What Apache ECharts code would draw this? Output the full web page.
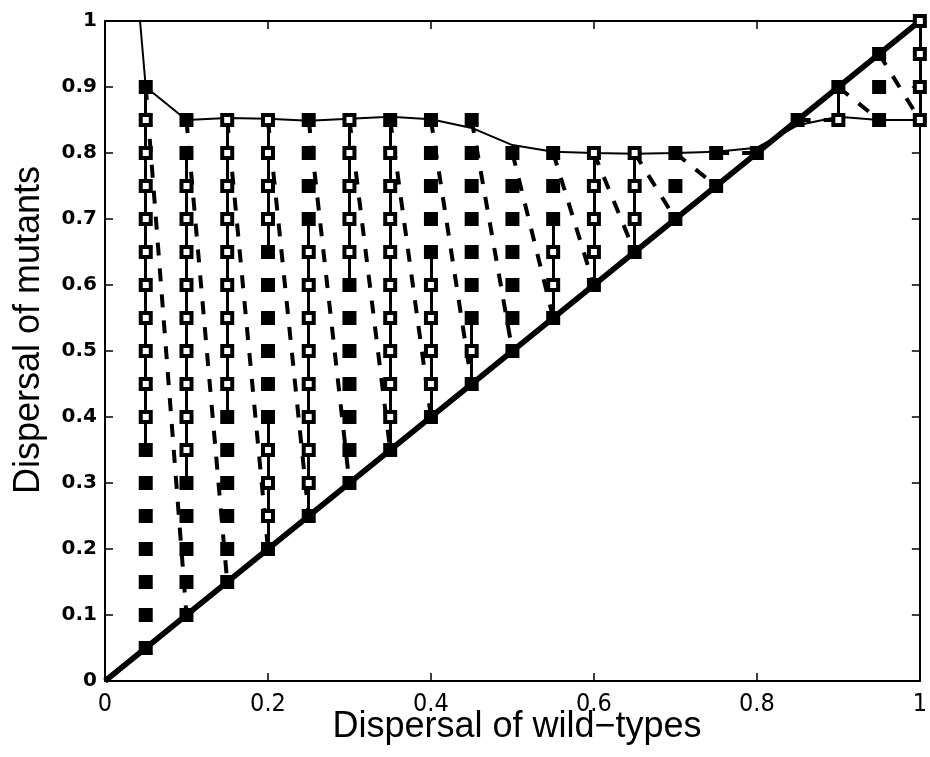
<!DOCTYPE html>
<html>
<head>
<meta charset="utf-8">
<script src="https://cdn.jsdelivr.net/npm/echarts@6/dist/echarts.min.js"></script>
<style>html,body{margin:0;padding:0;background:#fff;}#chart{width:930px;height:757px;}</style>
</head>
<body>
<div id="chart"></div>
<script>
// Columns of wild-type dispersal values
const columns = [0.05,0.1,0.15,0.2,0.25,0.3,0.35,0.4,0.45,0.5,0.55,0.6,0.65,0.7,0.75,0.8,0.85,0.9,0.95,1.0];
// Mutant dispersal values drawn as filled squares, one array per column
const filledY = [
  [0.9,0.35,0.3,0.25,0.2,0.15,0.1,0.05],
  [0.85,0.8,0.3,0.25,0.2,0.15,0.1],
  [0.4,0.35,0.3,0.25,0.2,0.15],
  [0.65,0.6,0.55,0.5,0.45,0.4,0.2],
  [0.85,0.8,0.75,0.7,0.25],
  [0.6,0.55,0.5,0.45,0.4,0.35,0.3],
  [0.85,0.35],
  [0.85,0.8,0.75,0.7,0.65,0.4],
  [0.85,0.8,0.75,0.7,0.65,0.6,0.55,0.45],
  [0.8,0.75,0.7,0.65,0.6,0.55,0.5],
  [0.8,0.75,0.7,0.55],
  [0.6],
  [0.65],
  [0.8,0.75,0.7],
  [0.8,0.75],
  [0.8],
  [0.85],
  [0.9],
  [0.95,0.9,0.85],
  []
];
// Mutant dispersal values drawn as open squares, one array per column
const hollowY = [
  [0.85,0.8,0.75,0.7,0.65,0.6,0.55,0.5,0.45,0.4],
  [0.75,0.7,0.65,0.6,0.55,0.5,0.45,0.4,0.35],
  [0.85,0.8,0.75,0.7,0.65,0.6,0.55,0.5,0.45],
  [0.85,0.8,0.75,0.7,0.35,0.3,0.25],
  [0.65,0.6,0.55,0.5,0.45,0.4,0.35,0.3],
  [0.85,0.8,0.75,0.7,0.65],
  [0.8,0.75,0.7,0.65,0.6,0.55,0.5,0.45,0.4],
  [0.6,0.55,0.5,0.45],
  [0.5],
  [],
  [0.65,0.6],
  [0.8,0.75,0.7,0.65],
  [0.8,0.75,0.7],
  [],
  [],
  [],
  [],
  [0.85],
  [],
  [1.0,0.95,0.9,0.85]
];
// Thin solid boundary curve
const boundaryX = [0.043,0.05,0.1,0.15,0.2,0.25,0.3,0.35,0.4,0.45,0.5,0.55,0.6,0.65,0.7,0.75,0.8,0.85,0.9,0.95,1.0];
const boundaryY = [1.0,0.9,0.85,0.853,0.852,0.849,0.852,0.855,0.851,0.838,0.812,0.802,0.8,0.799,0.8,0.802,0.808,0.842,0.855,0.85,0.85];
// Thick diagonal
const diagonal = [[0,0],[1,1]];
const xTitle = 'Dispersal of wild−types';
const yTitle = 'Dispersal of mutants';

const filledPts = [], hollowPts = [], stems = [], dashes = [];
const tops = [], bottoms = [];
columns.forEach((x,i) => {
  filledY[i].forEach(y => filledPts.push([x,y]));
  hollowY[i].forEach(y => hollowPts.push([x,y]));
  const all = filledY[i].map(y => ({y, h:false})).concat(hollowY[i].map(y => ({y, h:true})));
  all.sort((a,b) => a.y - b.y);
  for (let k = 0; k + 1 < all.length; k++) {
    if (all[k].h || all[k+1].h) stems.push({coords: [[x, all[k].y], [x, all[k+1].y]]});
  }
  tops.push(all.length ? all[all.length-1].y : null);
  bottoms.push(all.length ? all[0].y : null);
});
for (let i = 0; i + 1 < columns.length; i++) {
  dashes.push({coords: [[columns[i], tops[i]], [columns[i+1], bottoms[i+1]]]});
}
const boundary = boundaryX.map((x,i) => [x, boundaryY[i]]);

const chart = echarts.init(document.getElementById('chart'), null, {renderer:'canvas'});
const axisCommon = {
  type:'value', min:0, max:1,
  axisLine:{show:true, onZero:false, lineStyle:{color:'#000', width:2}},
  axisTick:{show:true, inside:true, length:8, lineStyle:{color:'#000', width:1.5}},
  splitLine:{show:false}
};
chart.setOption({
  animation:false,
  backgroundColor:'#fff',
  grid:{left:105, right:4, top:21, bottom:76, containLabel:false},
  graphic:[
    {type:'text', x:517, y:709, silent:true,
      style:{text:xTitle, fill:'#000', font:"36px 'Liberation Sans', Arial, sans-serif", x:0, y:0, textAlign:'center', textVerticalAlign:'top'}},
    {type:'text', x:29, y:330, rotation:Math.PI/2, silent:true,
      style:{text:yTitle, fill:'#000', font:"36px 'Liberation Sans', Arial, sans-serif", x:0, y:0, textAlign:'center', textVerticalAlign:'middle'}}
  ],
  xAxis:[
    Object.assign({}, axisCommon, {
      position:'bottom', interval:0.2,
      axisLabel:{show:true, margin:11, color:'#000', fontSize:25,
        fontFamily:"'Liberation Sans Narrow','DejaVu Sans Condensed','Liberation Sans',sans-serif",
        formatter: v => String(+v.toFixed(1))}
    }),
    Object.assign({}, axisCommon, {position:'top', interval:0.2, axisLabel:{show:false}})
  ],
  yAxis:[
    Object.assign({}, axisCommon, {
      position:'left', interval:0.1,
      axisLabel:{show:true, margin:8, color:'#000', fontSize:20, fontWeight:'bold',
        fontFamily:"'DejaVu Sans','Liberation Sans',Arial,sans-serif",
        formatter: v => String(+v.toFixed(1))}
    }),
    Object.assign({}, axisCommon, {position:'right', interval:0.1, axisLabel:{show:false}})
  ],
  series:[
    {type:'line', data:diagonal, showSymbol:false, symbol:'none', z:2,
      lineStyle:{color:'#000', width:5.5}, silent:true},
    {type:'line', data:boundary, showSymbol:false, symbol:'none', z:3,
      lineStyle:{color:'#000', width:2}, silent:true},
    {type:'lines', coordinateSystem:'cartesian2d', data:dashes, z:4, silent:true,
      lineStyle:{color:'#000', width:4, type:[13,13], opacity:1, curveness:0}},
    {type:'lines', coordinateSystem:'cartesian2d', data:stems, z:5, silent:true,
      lineStyle:{color:'#000', width:3, opacity:1, curveness:0}},
    {type:'scatter', data:filledPts, symbol:'rect', symbolSize:14, z:10, silent:true,
      itemStyle:{color:'#000', opacity:1}},
    {type:'scatter', data:hollowPts, symbol:'rect', symbolSize:10, z:11, silent:true,
      itemStyle:{color:'#fff', borderColor:'#000', borderWidth:4, opacity:1}}
  ]
});
</script>
</body>
</html>
